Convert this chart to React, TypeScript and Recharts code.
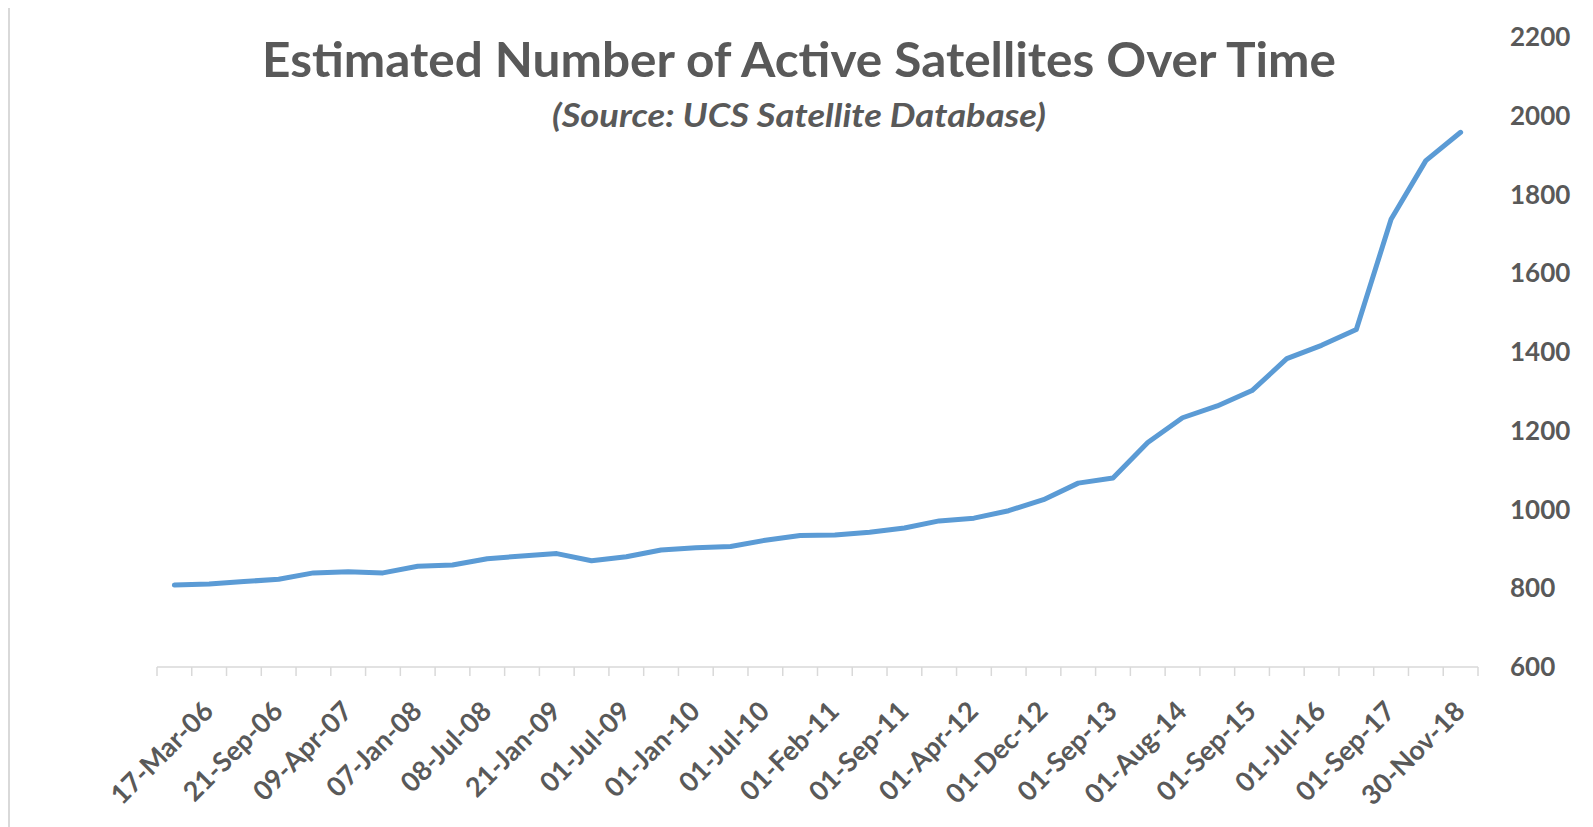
import { LineChart, Line, XAxis, YAxis } from 'recharts';

// Labels shown on the category axis (every other release)
const dateLabels = [
  '17-Mar-06', '21-Sep-06', '09-Apr-07', '07-Jan-08', '08-Jul-08', '21-Jan-09',
  '01-Jul-09', '01-Jan-10', '01-Jul-10', '01-Feb-11', '01-Sep-11', '01-Apr-12',
  '01-Dec-12', '01-Sep-13', '01-Aug-14', '01-Sep-15', '01-Jul-16', '01-Sep-17',
  '30-Nov-18',
];

// Estimated active satellites, one value per database release
const activeSatellites = [
  808, 811, 817, 823, 839, 842, 839, 856, 859, 875, 882, 888, 870, 880, 897, 903,
  906, 922, 934, 935, 942, 953, 971, 978, 997, 1025, 1067, 1080, 1170, 1233, 1263,
  1302, 1383, 1417, 1457, 1737, 1886, 1958,
];

const yTicks = [600, 800, 1000, 1200, 1400, 1600, 1800, 2000, 2200];

const TEXT = '#595959';
const AXIS = '#d9d9d9';
const FONT = 'Lato, "Open Sans", sans-serif';

const count = activeSatellites.length;
const data = activeSatellites.map((v, i) => ({ pos: i + 0.5, value: v }));
const xTicks = Array.from({ length: count + 1 }, (_, i) => i);

function DateTick({ x, y, payload }: any) {
  const v = payload.value;
  if (v % 2 !== 0 || v >= count) return <g />;
  const ax = x + 58;
  const ay = y + 35;
  return (
    <text
      x={ax}
      y={ay}
      textAnchor="end"
      transform={`rotate(-45, ${ax}, ${ay})`}
      fill={TEXT}
      fontSize={27}
      fontWeight={700}
      fontFamily={FONT}
    >
      {dateLabels[v / 2]}
    </text>
  );
}

export default function App() {
  return (
    <div
      style={{
        position: 'relative',
        width: 1580,
        height: 830,
        marginTop: -3,
        border: `2px solid ${AXIS}`,
        boxSizing: 'border-box',
        background: '#fff',
        fontFamily: FONT,
      }}
    >
      <LineChart
        width={1576}
        height={826}
        data={data}
        margin={{ top: 30, right: 28, left: 147, bottom: 46 }}
      >
        <XAxis
          dataKey="pos"
          type="number"
          domain={[0, count]}
          ticks={xTicks}
          interval={0}
          height={120}
          tickSize={9}
          tickMargin={2}
          stroke={AXIS}
          axisLine={{ stroke: AXIS, strokeWidth: 1.5 }}
          tickLine={{ stroke: AXIS, strokeWidth: 1.5 }}
          tick={<DateTick />}
        />
        <YAxis
          orientation="right"
          domain={[600, 2200]}
          ticks={yTicks}
          interval={0}
          width={80}
          axisLine={false}
          tickLine={false}
          tickSize={0}
          tickMargin={32}
          tick={{ fill: TEXT, fontSize: 26, fontWeight: 700, fontFamily: FONT, textAnchor: 'start' }}
        />
        <Line
          type="linear"
          dataKey="value"
          stroke="#5b9bd5"
          strokeWidth={5}
          strokeLinejoin="round"
          strokeLinecap="round"
          dot={false}
          activeDot={false}
          isAnimationActive={false}
        />
      </LineChart>
      <svg
        width={1576}
        height={150}
        style={{ position: 'absolute', left: 0, top: 0, pointerEvents: 'none' }}
      >
        <text
          x={789}
          y={70}
          textAnchor="middle"
          textLength={1074}
          lengthAdjust="spacingAndGlyphs"
          fill={TEXT}
          fontSize={48}
          fontWeight={700}
          fontFamily={FONT}
        >
          Estimated Number of Active Satellites Over Time
        </text>
        <text
          x={789}
          y={120}
          textAnchor="middle"
          textLength={494}
          lengthAdjust="spacingAndGlyphs"
          fill={TEXT}
          fontSize={33}
          fontWeight={700}
          fontStyle="italic"
          fontFamily={FONT}
        >
          (Source: UCS Satellite Database)
        </text>
      </svg>
    </div>
  );
}
